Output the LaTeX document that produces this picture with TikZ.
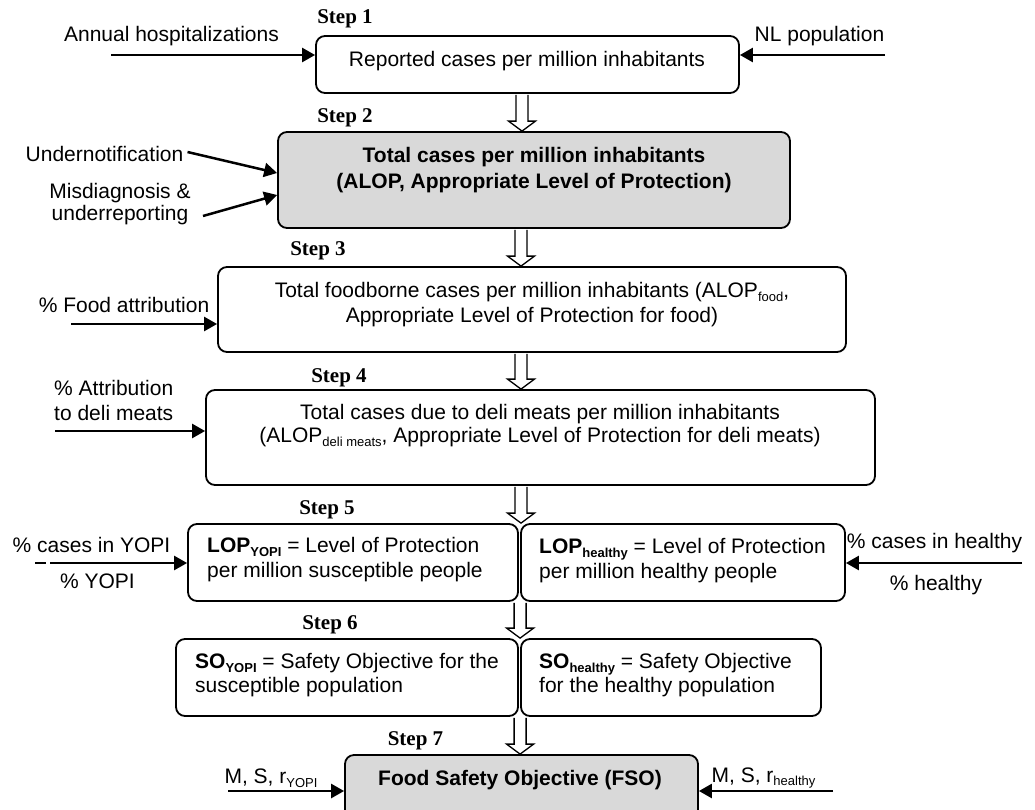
\documentclass[tikz,border=0pt]{standalone}
\usepackage{fontspec}
\setmainfont{Liberation Sans}
\newfontfamily\stepfont{Liberation Serif}
\usetikzlibrary{arrows.meta,calc}
\newcommand{\mysub}[1]{\raisebox{-0.35ex}{\fontsize{13}{13}\selectfont #1}}
\newcommand{\mybsub}[1]{\raisebox{-0.35ex}{\fontsize{13}{13}\selectfont\bfseries #1}}
\newcommand{\hollowarr}[2]{\draw[hollow] let \p1=(#1), \p2=(#2) in
  (\x1-6pt,\y1-0.9pt) -- (\x1-6pt,\y2+10pt) -- (\x1-13.5pt,\y2+10pt) -- (\x1,\y2)
  -- (\x1+13.5pt,\y2+10pt) -- (\x1+6pt,\y2+10pt) -- (\x1+6pt,\y1-0.9pt);}
\begin{document}
\begin{tikzpicture}[x=1pt,y=-1pt,
  box/.style={draw, line width=1.8pt, rounded corners=9pt, inner sep=0pt},
  graybox/.style={box, fill=gray!30},
  txt/.style={inner sep=0pt, font=\fontsize{21}{24.5}\selectfont, align=center},
  ltxt/.style={inner sep=0pt, font=\fontsize{21}{24.5}\selectfont, align=left, anchor=west},
  steplbl/.style={inner sep=0pt, font=\stepfont\bfseries\fontsize{21}{24}\selectfont},
  inarrow/.style={line width=2.5pt, -{Triangle[length=13pt,width=14pt]}},
  hollow/.style={line width=1.3pt, fill=white, line join=miter}]
\useasboundingbox (0,0) rectangle (1035,809);
\begin{scope}
\clip (0,0) rectangle (1035,809);
% boxes
\node[box, minimum width=423pt, minimum height=57pt] (b1) at (527.5,64.5) {};
\node[graybox, minimum width=512pt, minimum height=96pt] (b2) at (534,180) {};
\node[box, minimum width=628pt, minimum height=85pt] (b3) at (532,309.5) {};
\node[box, minimum width=669pt, minimum height=95pt] (b4) at (540.5,437.5) {};
\node[box, minimum width=330pt, minimum height=77pt] (b5l) at (353,562.5) {};
\node[box, minimum width=324pt, minimum height=77pt] (b5r) at (683,562.5) {};
\node[box, minimum width=342pt, minimum height=77pt] (b6l) at (347,677.5) {};
\node[box, minimum width=300pt, minimum height=77pt] (b6r) at (671,677.5) {};
\node[graybox, minimum width=353pt, minimum height=64pt] (b7) at (521.5,787) {};
% box texts
\node[txt] (t1) at (527,61) {Reported cases per million inhabitants};
\node[txt, font=\fontsize{21}{26}\selectfont\bfseries] (t2) at (534,170) {Total cases per million inhabitants\\(ALOP, Appropriate Level of Protection)};
\node[txt] (t3) at (532,304.5) {Total foodborne cases per million inhabitants (ALOP\mysub{food},\\Appropriate Level of Protection for food)};
\node[txt, font=\fontsize{21}{23.5}\selectfont] (t4) at (540,425.5) {Total cases due to deli meats per million inhabitants\\(ALOP\mysub{deli meats}, Appropriate Level of Protection for deli meats)};
\node[ltxt] (t5l) at (207,559.5) {\textbf{LOP}\mybsub{YOPI} = Level of Protection\\per million susceptible people};
\node[ltxt] (t5r) at (539,560.5) {\textbf{LOP}\mybsub{healthy} = Level of Protection\\per million healthy people};
\node[ltxt, font=\fontsize{21}{24}\selectfont] (t6l) at (195,675) {\textbf{SO}\mybsub{YOPI} = Safety Objective for the\\susceptible population};
\node[ltxt, font=\fontsize{21}{24}\selectfont] (t6r) at (539,675) {\textbf{SO}\mybsub{healthy} = Safety Objective\\for the healthy population};
\node[txt, font=\fontsize{21}{24}\selectfont\bfseries] (t7) at (520,780) {Food Safety Objective (FSO)};
% step labels
\node[steplbl] (s1) at (345,19) {Step 1};
\node[steplbl] (s2) at (345,118) {Step 2};
\node[steplbl] (s3) at (318,251) {Step 3};
\node[steplbl] (s4) at (339,378) {Step 4};
\node[steplbl] (s5) at (327,510) {Step 5};
\node[steplbl] (s6) at (330,625) {Step 6};
\node[steplbl] (s7) at (415.5,741) {Step 7};
% hollow arrows
\coordinate (ax1) at (522,0);
\coordinate (ax) at (521,0);
\hollowarr{b1.south -| ax1}{b2.north -| ax1}
\hollowarr{b2.south -| ax}{b3.north -| ax}
\hollowarr{b3.south -| ax}{b4.north -| ax}
\hollowarr{b4.south -| ax}{b5r.north west}
\hollowarr{b5r.south west}{b6r.north west}
\hollowarr{b6r.south west}{b7.north -| ax}
% input labels
\node[txt] (ann) at (171.5,36) {Annual hospitalizations};
\node[txt] (nl) at (819.5,36) {NL population};
\node[txt] (und) at (104.5,154) {Undernotification};
\node[txt, font=\fontsize{21}{22}\selectfont] (mis) at (120,204) {Misdiagnosis \&\\underreporting};
\node[txt] (food) at (124,305) {\% Food attribution};
\node[ltxt, font=\fontsize{21}{25}\selectfont] (deli) at (54,400.5) {\% Attribution\\to deli meats};
\node[txt] (cy) at (91.5,545) {\% cases in YOPI};
\node[txt] (py) at (97.5,581) {\% YOPI};
\node[txt] (ch) at (934.5,543) {\% cases in healthy};
\node[txt] (ph) at (936,585) {\% healthy};
\node[txt] (msy) at (271,778) {M, S, r\mysub{YOPI}};
\node[txt] (msh) at (763.5,778) {M, S, r\mysub{healthy}};
% input arrow start points
\coordinate (annS) at (111,55);
\coordinate (nlS) at (885,55);
\coordinate (misS) at (203,216);
\coordinate (foodS) at (71,324);
\coordinate (deliS) at (55,431);
\coordinate (cyS) at (50,563);
\coordinate (dashA) at (35,563);
\coordinate (dashB) at (46,563);
\coordinate (chS) at (1022,563);
\coordinate (msyS) at (228,791);
\coordinate (mshS) at (833,791);
% input arrows
\draw[inarrow] (annS) -- (b1.west |- annS);
\draw[inarrow] (nlS) -- (b1.east |- nlS);
\draw[inarrow] ([xshift=4pt,yshift=2pt]und.east) -- ([yshift=7pt]b2.west);
\draw[inarrow] (misS) -- ([yshift=-15pt]b2.west);
\draw[inarrow] (foodS) -- (b3.west |- foodS);
\draw[inarrow] (deliS) -- (b4.west |- deliS);
\draw[line width=2.5pt] (dashA) -- (dashB);
\draw[inarrow] (cyS) -- (b5l.west |- cyS);
\draw[inarrow] (chS) -- (b5r.east |- chS);
\draw[inarrow] (msyS) -- (b7.west |- msyS);
\draw[inarrow] (mshS) -- (b7.east |- mshS);
\end{scope}
\end{tikzpicture}
\end{document}
